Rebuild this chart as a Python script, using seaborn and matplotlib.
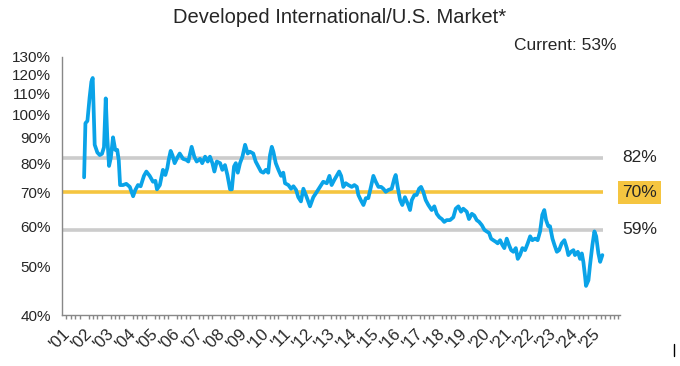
import numpy as np
import pandas as pd
import seaborn as sns
import matplotlib.pyplot as plt
from matplotlib.ticker import FixedLocator, NullLocator, MultipleLocator
from matplotlib.lines import Line2D

# decimal year, ratio in %
years = [2002.00, 2002.06, 2002.15, 2002.25, 2002.33, 2002.39, 2002.48, 2002.60, 2002.71, 2002.81,
         2002.90, 2002.98, 2003.05, 2003.13, 2003.21, 2003.31, 2003.41, 2003.50, 2003.57, 2003.63,
         2003.76, 2003.91, 2004.07, 2004.22, 2004.32, 2004.44, 2004.56, 2004.71, 2004.82, 2004.97,
         2005.12, 2005.23, 2005.30, 2005.43, 2005.57, 2005.68, 2005.77, 2005.83, 2005.92, 2006.00,
         2006.10, 2006.22, 2006.33, 2006.48, 2006.63, 2006.72, 2006.87, 2006.99, 2007.10, 2007.25,
         2007.35, 2007.48, 2007.60, 2007.70, 2007.81, 2007.90, 2008.01, 2008.16, 2008.26, 2008.38,
         2008.49, 2008.61, 2008.69, 2008.79, 2008.87, 2008.96, 2009.06, 2009.17, 2009.29, 2009.41,
         2009.51, 2009.66, 2009.77, 2009.89, 2010.01, 2010.12, 2010.23, 2010.34, 2010.42, 2010.50,
         2010.57, 2010.68, 2010.80, 2010.92, 2011.02, 2011.10, 2011.25, 2011.37, 2011.48, 2011.60,
         2011.70, 2011.82, 2011.93, 2012.08, 2012.23, 2012.38, 2012.54, 2012.68, 2012.83, 2012.99,
         2013.11, 2013.21, 2013.33, 2013.44, 2013.55, 2013.64, 2013.74, 2013.85, 2013.97, 2014.12,
         2014.24, 2014.35, 2014.42, 2014.53, 2014.65, 2014.76, 2014.87, 2014.99, 2015.10, 2015.21,
         2015.33, 2015.45, 2015.55, 2015.66, 2015.78, 2015.93, 2016.05, 2016.11, 2016.20, 2016.31,
         2016.41, 2016.53, 2016.68, 2016.76, 2016.84, 2016.96, 2017.06, 2017.17, 2017.26, 2017.36,
         2017.47, 2017.59, 2017.74, 2017.86, 2017.97, 2018.09, 2018.20, 2018.31, 2018.42, 2018.57,
         2018.72, 2018.83, 2018.95, 2019.07, 2019.17, 2019.33, 2019.43, 2019.56, 2019.67, 2019.78,
         2019.89, 2020.01, 2020.13, 2020.23, 2020.34, 2020.43, 2020.53, 2020.64, 2020.73, 2020.84,
         2020.94, 2021.03, 2021.14, 2021.24, 2021.34, 2021.44, 2021.55, 2021.64, 2021.74, 2021.85,
         2021.97, 2022.09, 2022.20, 2022.30, 2022.42, 2022.54, 2022.65, 2022.75, 2022.84, 2022.92,
         2023.02, 2023.10, 2023.21, 2023.30, 2023.41, 2023.51, 2023.63, 2023.75, 2023.86, 2023.93,
         2024.05, 2024.16, 2024.23, 2024.36, 2024.46, 2024.54, 2024.61, 2024.69, 2024.73, 2024.84,
         2024.91, 2025.02, 2025.11, 2025.19, 2025.29, 2025.37, 2025.47]
ratio = [75, 96, 97, 108, 116, 118, 87, 84, 83, 83.5,
         86, 107.5, 90, 79, 82, 90, 85, 85, 81, 72.4,
         72.4, 72.8, 71.8, 68.8, 70.8, 72.4, 72, 75.5, 77, 75.5,
         73.5, 73.8, 71, 72.4, 77.6, 75.8, 78.3, 81.2, 84.6, 83,
         80, 82, 83.6, 81.6, 81.2, 80.6, 86.2, 82.4, 80.6, 81.6,
         80, 82.4, 80.6, 82.4, 80, 77, 80.6, 80, 77.6, 79.3,
         75.8, 71, 71, 78.8, 80, 76.6, 80, 82.4, 87, 83.6,
         84.3, 83.6, 80.6, 78.8, 77, 76.6, 77.6, 76.6, 83, 86.2,
         84.3, 80, 77.6, 75.5, 76.6, 73, 72.4, 71.2, 72, 70.8,
         68.5, 67.2, 71.2, 68.5, 65.7, 68.5, 70.2, 71.8, 73.5, 73,
         75.5, 72.4, 74.1, 75.5, 77, 75.5, 71.8, 73, 72.4, 71.8,
         72.4, 71.8, 69.2, 67.6, 66.1, 68.2, 68.2, 71.8, 75.5, 73.5,
         71.8, 71.8, 71.2, 70.2, 70.8, 71.2, 74.6, 75.8, 71.8, 67.6,
         66.1, 68.5, 66.1, 64.6, 67.6, 69.2, 69.2, 71.2, 71.8, 70.2,
         67.6, 66.1, 64.6, 65.7, 63.5, 62.5, 62, 61.2, 61.7, 61.7,
         62.5, 65, 65.7, 64.1, 65, 64.1, 62, 63.5, 63, 61.7,
         61.2, 60.3, 59, 58.6, 58.2, 56.7, 56.3, 55.9, 55.5, 56.3,
         55.1, 54.3, 56.7, 55.1, 53.8, 53.4, 54.3, 51.7, 52.6, 54.3,
         53.8, 55.5, 57.3, 56.3, 56.7, 56.3, 58.6, 63.2, 64.6, 61.7,
         60, 60, 56.7, 55.1, 53.4, 53.8, 55.5, 56.3, 54.3, 52.6,
         53.4, 53.8, 52.6, 53.4, 51.7, 53, 51, 47.6, 45.7, 46.9,
         50.2, 55.1, 58.6, 57.3, 53, 51, 52.6]

ref_levels = [82, 70, 59]
ref_labels = ['82%', '70%', '59%']
ref_colors = ['#cccccc', '#f5c540', '#cccccc']
year_labels = ["'%02d" % (y % 100) for y in range(2001, 2026)]
y_ticks = [40, 50, 60, 70, 80, 90, 100, 110, 120, 130]

df = pd.DataFrame({'year': years, 'ratio': ratio})

sns.set_style('white')
plt.rcParams['font.family'] = ['Liberation Sans', 'DejaVu Sans']

fig = plt.figure(figsize=(6.8, 3.66), dpi=100)
ax = fig.add_axes([0.0912, 0.139, 0.8206, 0.706])

for lvl, col in zip(ref_levels, ref_colors):
    ax.plot([2001, years[-1] + 0.05], [lvl, lvl], color=col, lw=2.6, zorder=1,
            solid_capstyle='butt')

sns.lineplot(data=df, x='year', y='ratio', ax=ax, color='#0aa3e8', lw=2.7, zorder=3)

ax.set_yscale('log')
ax.set_ylim(40, 130)
ax.yaxis.set_major_locator(FixedLocator(y_ticks))
ax.yaxis.set_minor_locator(NullLocator())
ax.set_yticklabels(['%d%%' % v for v in y_ticks], fontsize=11)

ax.set_xlim(2001, 2026.27)
ax.set_xticks(range(2001, 2026))
ax.set_xticklabels(year_labels, fontsize=12, rotation=45, ha='right',
                   rotation_mode='anchor')
ax.xaxis.set_minor_locator(MultipleLocator(0.2))
ax.tick_params(axis='both', which='major', direction='out', length=5, width=1,
               color='#888888', pad=3)
ax.tick_params(axis='x', which='minor', direction='out', length=3, width=1,
               color='#888888', bottom=True)
ax.tick_params(axis='x', which='major', length=6, pad=2)
ax.set_xlabel('')
ax.set_ylabel('')

sns.despine(ax=ax)
for side in ['left', 'bottom']:
    ax.spines[side].set_color('#888888')
    ax.spines[side].set_linewidth(1)

for lvl, lab, col in zip(ref_levels, ref_labels, ref_colors):
    box = dict(facecolor=col, edgecolor='none', pad=3) if lab == '70%' else None
    ax.text(1.004, lvl, lab, transform=ax.get_yaxis_transform(), fontsize=12.5,
            va='center', ha='left', bbox=box, clip_on=False)

fig.text(0.5, 0.952, 'Developed International/U.S. Market*', ha='center', va='center',
         fontsize=14.5)
fig.text(0.907, 0.877, 'Current: 53%', ha='right', va='center', fontsize=12.5)
fig.add_artist(Line2D([0.991, 0.991], [0.027, 0.06], color='black', lw=1))

fig.savefig('out.png', dpi=100)
